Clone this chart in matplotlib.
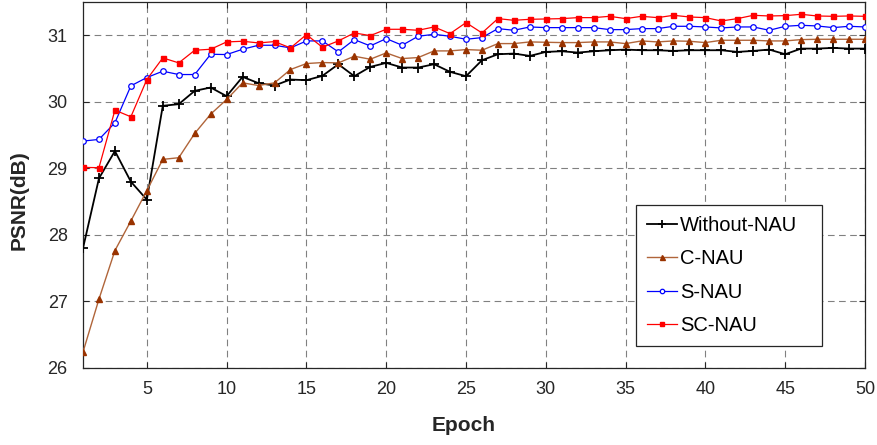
import matplotlib
matplotlib.use("Agg")
import matplotlib.pyplot as plt

plt.rcParams['font.family'] = ['Liberation Sans', 'DejaVu Sans']

# PSNR per training epoch for each variant
epochs = list(range(1, 51))

without_nau = [27.80, 28.85, 29.26, 28.80, 28.53, 29.94, 29.965, 30.165, 30.215, 30.085,
               30.375, 30.28, 30.245, 30.335, 30.325, 30.39, 30.565, 30.385, 30.525, 30.585,
               30.515, 30.515, 30.565, 30.45, 30.385, 30.625, 30.715, 30.725, 30.69, 30.75,
               30.76, 30.74, 30.76, 30.775, 30.785, 30.775, 30.775, 30.765, 30.775, 30.775,
               30.775, 30.75, 30.765, 30.785, 30.715, 30.80, 30.80, 30.81, 30.80, 30.80]

c_nau = [26.24, 27.035, 27.765, 28.21, 28.665, 29.135, 29.16, 29.525, 29.815, 30.035,
         30.285, 30.245, 30.285, 30.485, 30.575, 30.59, 30.585, 30.685, 30.64, 30.735,
         30.65, 30.665, 30.765, 30.765, 30.785, 30.775, 30.875, 30.875, 30.90, 30.895,
         30.89, 30.89, 30.90, 30.90, 30.875, 30.915, 30.90, 30.915, 30.91, 30.89,
         30.925, 30.925, 30.925, 30.915, 30.915, 30.935, 30.94, 30.94, 30.94, 30.94]

s_nau = [29.41, 29.435, 29.685, 30.24, 30.365, 30.46, 30.41, 30.41, 30.715, 30.71,
         30.79, 30.85, 30.85, 30.81, 30.915, 30.915, 30.75, 30.935, 30.84, 30.95,
         30.85, 30.985, 31.015, 30.985, 30.94, 30.965, 31.10, 31.075, 31.125, 31.115,
         31.115, 31.115, 31.115, 31.085, 31.085, 31.10, 31.10, 31.135, 31.135, 31.125,
         31.11, 31.125, 31.125, 31.075, 31.135, 31.15, 31.14, 31.115, 31.135, 31.125]

sc_nau = [29.015, 29.01, 29.875, 29.775, 30.335, 30.66, 30.585, 30.775, 30.79, 30.90,
          30.91, 30.885, 30.905, 30.81, 31.01, 30.82, 30.915, 31.035, 30.995, 31.09,
          31.09, 31.075, 31.125, 31.025, 31.19, 31.035, 31.25, 31.225, 31.24, 31.245,
          31.25, 31.265, 31.265, 31.285, 31.25, 31.285, 31.265, 31.30, 31.275, 31.265,
          31.215, 31.25, 31.30, 31.29, 31.295, 31.315, 31.29, 31.285, 31.29, 31.285]

x_ticks = [5, 10, 15, 20, 25, 30, 35, 40, 45, 50]
y_ticks = [26, 27, 28, 29, 30, 31]

fig = plt.figure(figsize=(8.77, 4.45), dpi=100)
ax = fig.add_axes([83 / 877, 1 - 368 / 445, 782 / 877, 366 / 445])

ax.plot(epochs, without_nau, color='black', lw=1.3, marker='+', ms=7, mew=1.3,
        label='Without-NAU', zorder=3)
ax.plot(epochs, c_nau, color='#b0653a', lw=1.0, marker='^', ms=4.5,
        mfc='#993300', mec='#993300', label='C-NAU', zorder=3)
ax.plot(epochs, s_nau, color='blue', lw=0.9, marker='o', ms=4, mfc='white',
        mec='blue', mew=0.9, label='S-NAU', zorder=3)
ax.plot(epochs, sc_nau, color='red', lw=0.9, marker='s', ms=3.6, mfc='red',
        mec='red', label='SC-NAU', zorder=3)

ax.set_xlim(1, 50)
ax.set_ylim(26, 31.5)
ax.set_xticks(x_ticks)
ax.set_yticks(y_ticks)
ax.grid(True, ls=(0, (6, 4)), color='#808080', lw=0.8)
ax.tick_params(direction='in', length=4, width=0.8, top=True, right=True,
               labelsize=13, colors='#262626', pad=9)
ax.tick_params(axis='y', pad=11)
for s in ax.spines.values():
    s.set_color('#262626')
    s.set_linewidth(0.9)

ax.set_xlabel('Epoch', fontsize=15, fontweight='bold', color='#262626')
ax.xaxis.set_label_coords(0.4864, -0.13)
ax.set_ylabel('PSNR(dB)', fontsize=15, fontweight='bold', color='#262626')
ax.yaxis.set_label_coords(-0.07, 0.459)

leg = ax.legend(loc='upper left', bbox_to_anchor=(0.7072, 0.4454, 0.2379, 0.0),
                mode='expand', fontsize=14.5, frameon=True, fancybox=False,
                handlelength=1.5, handletextpad=0.15, labelspacing=0.71,
                borderpad=0.55, borderaxespad=0, markerscale=0.8)
leg.get_frame().set_edgecolor('#262626')
leg.get_frame().set_linewidth(0.9)
leg.get_frame().set_alpha(1)

fig.savefig('out.png', dpi=100)
